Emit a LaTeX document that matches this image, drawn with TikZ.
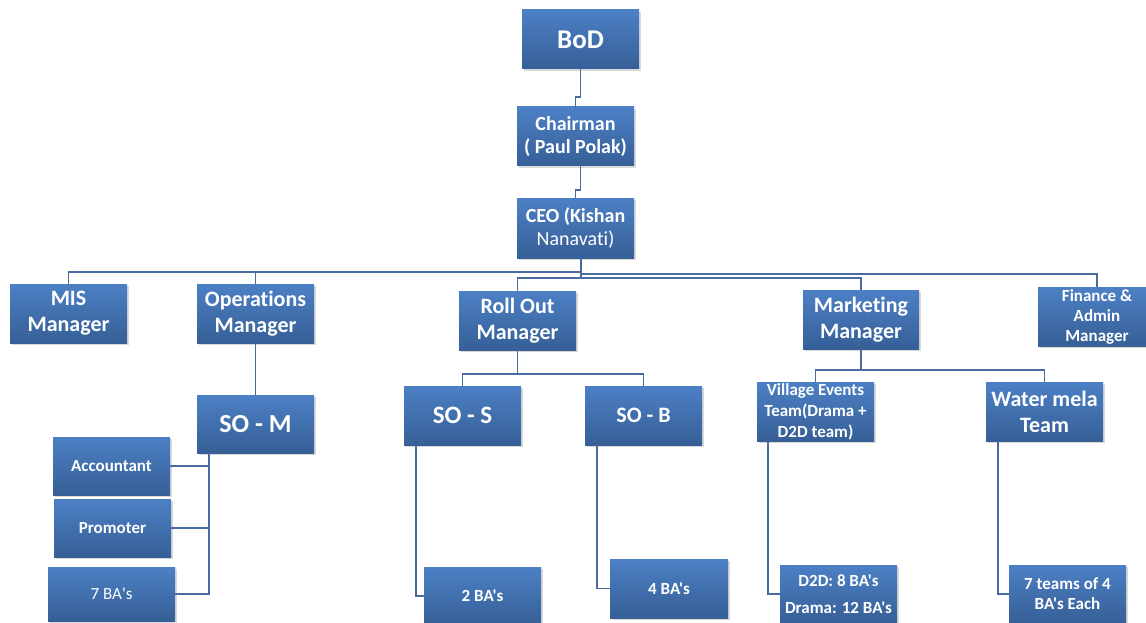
\documentclass[tikz,border=0pt]{standalone}
\usepackage{fontspec}
\setmainfont[Ligatures={TeXOff,NoCommon}]{Carlito}
\usetikzlibrary{shadows}

\definecolor{boxtop}{RGB}{76,128,197}
\definecolor{boxbot}{RGB}{54,95,150}
\definecolor{linkcol}{RGB}{72,108,160}
\newcommand{\fsz}[2]{\fontsize{#1}{#2}\selectfont}

\begin{document}
\begin{tikzpicture}[x=1pt,y=-1pt,
    box/.style={top color=boxtop,bottom color=boxbot,text=white,align=center,
        inner sep=0pt,minimum width=117pt,minimum height=59pt,
        drop shadow={opacity=0.3,shadow xshift=2pt,shadow yshift=-2pt}},
    small/.style={font=\bfseries\fsz{17}{20}},
    mid/.style={font=\bfseries\fsz{22}{26}},
    link/.style={draw=linkcol,line width=1.6pt}]
    \useasboundingbox (0,0) rectangle (1146,623);

    \node[box,font=\bfseries\fsz{27}{30}] (0) at (580.5,39.5) {BoD};
    \node[box,font=\bfseries\fsz{20}{23}] (1) at (575.5,136.5) {Chairman\\( Paul Polak)};
    \node[box,minimum height=60pt,font=\bfseries\fsz{20}{23}] (2) at (575.5,228) {CEO (Kishan\\\mdseries Nanavati)};

    \node[box,mid] (3) at (68.5,313.5) {MIS\\Manager};
    \node[box,mid] (4) at (255.5,313.5) {Operations\\Manager};
    \node[box,mid] (5) at (517.5,320.5) {Roll Out\\Manager};
    \node[box,mid,minimum width=116pt] (6) at (861,319.5) {Marketing\\Manager};
    \node[box,small,minimum width=118pt] (7) at (1097,316.5) {Finance \&\\Admin\\Manager};

    \node[box,minimum height=58pt,font=\bfseries\fsz{26}{30}] (8) at (255.5,424) {SO - M};
    \node[box,font=\bfseries\fsz{25}{30}] (9) at (462.5,415.5) {SO - S};
    \node[box,mid] (10) at (643.5,415.5) {SO - B};
    \node[box,small,font=\bfseries\fsz{17}{21}] (11) at (815.5,411.5) {Village Events\\Team(Drama +\\D2D team)};
    \node[box,mid] (12) at (1044.5,411.5) {Water mela\\Team};

    \node[box,small,minimum height=58pt] (13) at (111.5,466) {Accountant};
    \node[box,small,minimum height=58pt] (14) at (112.5,528) {Promoter};
    \node[box,minimum width=127pt,minimum height=54pt,font=\fsz{17}{20}] (15) at (111.5,594) {7 BA's};
    \node[box,small,minimum height=58pt] (16) at (482.5,596) {2 BA's};
    \node[box,small,minimum width=118pt] (17) at (669,588.5) {4 BA's};
    \node[box,minimum height=58pt,font=\bfseries\fsz{17}{27}] (18) at (838.5,594) {D2D: 8 BA's\\Drama: 12 BA's};
    \node[box,small,minimum height=58pt] (19) at (1067.5,594) {7 teams of 4\\BA's Each};

    % top chain
    \draw[link] (0.south) -- ++(0,28) -| (1.north);
    \draw[link] ([xshift=5pt]1.south) -- ++(0,24) -| (2.north);

    % managers
    \draw[link] ([xshift=5.5pt]2.south) -- ++(0,20);
    \draw[link] ([xshift=5.5pt,yshift=-14pt]2.south) -| (3.north);
    \draw[link] ([xshift=5.5pt,yshift=-14pt]2.south) -| (4.north);
    \draw[link] ([xshift=5.5pt,yshift=-20pt]2.south) -| (5.north);
    \draw[link] ([xshift=5.5pt,yshift=-20pt]2.south) -| (6.north);
    \draw[link] ([xshift=5.5pt,yshift=-16pt]2.south) -| (7.north);

    % operations
    \draw[link] (4.south) -- (8.north);
    \coordinate (m) at ([xshift=-46.5pt]8.south);
    \draw[link] (m) |- (13.east);
    \draw[link] (m) |- (14.east);
    \draw[link] (m) |- (15.east);

    % roll out
    \draw[link] (5.south) -- ++(0,24) -| (9.north);
    \draw[link] (5.south) -- ++(0,24) -| (10.north);
    \draw[link] ([xshift=-46.5pt]9.south) |- (16.west);
    \draw[link] ([xshift=-46.5pt]10.south) |- (17.west);

    % marketing
    \draw[link] (6.south) -- ++(0,21) -| (11.north);
    \draw[link] (6.south) -- ++(0,21) -| (12.north);
    \draw[link] ([xshift=-47.5pt]11.south) |- (18.west);
    \draw[link] ([xshift=-46.5pt]12.south) |- (19.west);
\end{tikzpicture}
\end{document}
